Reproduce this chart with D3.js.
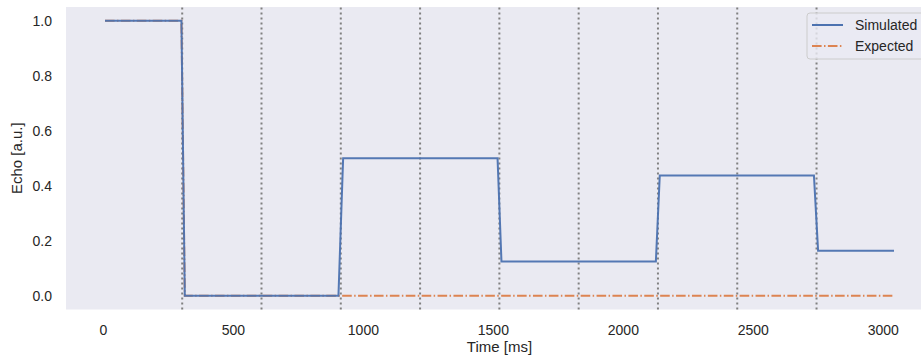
<!DOCTYPE html>
<html>
<head>
<meta charset="utf-8">
<script src="https://cdn.jsdelivr.net/npm/d3@7"></script>
<style>
    body { margin: 0; background: #ffffff; }
    svg { display: block; font-family: "Liberation Sans", Arial, sans-serif; }
</style>
</head>
<body>
<svg class="chart" width="921" height="358"></svg>
<script>

// simulated echo (step response)
const simTime = [8, 302, 315, 906, 924, 1518, 1533, 2127, 2142, 2735, 2751, 3043];
const simEcho = [1, 1, 0, 0, 0.5, 0.5, 0.125, 0.125, 0.4375, 0.4375, 0.164, 0.164];

// expected echo
const expTime = [8, 302, 315, 3043];
const expEcho = [1, 1, 0, 0];

// refocusing / echo times (dotted markers)
const echoTimes = [305, 610, 915, 1220, 1525, 1830, 2135, 2440, 2745];

const xTicks = [0, 500, 1000, 1500, 2000, 2500, 3000];
const yTicks = [0, 0.2, 0.4, 0.6, 0.8, 1.0];

const seriesNames = ['Simulated', 'Expected'];

const margin = { left: 66, top: 7, right: -12, bottom: 48.5 };
const W = 921, H = 358;

const svg = d3.select('.chart');

const x = d3.scaleLinear()
    .domain([-142, 3193])
    .range([margin.left, W - margin.right]);

const y = d3.scaleLinear()
    .domain([-0.05, 1.05])
    .range([H - margin.bottom, margin.top]);

// background
svg.append('rect')
    .attr('x', x.range()[0])
    .attr('y', y.range()[1])
    .attr('width', x.range()[1] - x.range()[0])
    .attr('height', y.range()[0] - y.range()[1])
    .attr('fill', '#eaeaf2');

// axes (no tick lines, no domain, like seaborn darkgrid without grid)
const xAxis = svg.append('g')
    .attr('transform', `translate(0,${y.range()[0]})`)
    .call(d3.axisBottom(x).tickValues(xTicks).tickFormat(d3.format('d')).tickSize(0).tickPadding(16));

const yAxis = svg.append('g')
    .attr('transform', `translate(${x.range()[0]},0)`)
    .call(d3.axisLeft(y).tickValues(yTicks).tickFormat(d3.format('.1f')).tickSize(0).tickPadding(14));

[xAxis, yAxis].forEach(a => {
    a.select('.domain').remove();
    a.selectAll('text').attr('font-size', 14).attr('fill', '#262626').attr('font-family', '"Liberation Sans", Arial, sans-serif');
});

svg.append('text')
    .attr('x', (x.range()[0] + x.range()[1]) / 2)
    .attr('y', 352)
    .attr('text-anchor', 'middle')
    .attr('font-size', 15)
    .attr('fill', '#262626')
    .text('Time [ms]');

svg.append('text')
    .attr('transform', `translate(22,${(y.range()[0] + y.range()[1]) / 2}) rotate(-90)`)
    .attr('text-anchor', 'middle')
    .attr('font-size', 15)
    .attr('fill', '#262626')
    .text('Echo [a.u.]');

// dotted verticals
svg.append('g')
    .selectAll('line')
    .data(echoTimes)
    .join('line')
    .attr('x1', d => x(d))
    .attr('x2', d => x(d))
    .attr('y1', y.range()[0])
    .attr('y2', y.range()[1])
    .attr('stroke', '#808080')
    .attr('stroke-width', 2)
    .attr('stroke-dasharray', '2,3');

const line = d3.line()
    .x(d => x(d[0]))
    .y(d => y(d[1]));

const expData = expTime.map((t, i) => [t, expEcho[i]]);
const simData = simTime.map((t, i) => [t, simEcho[i]]);

svg.append('path')
    .datum(expData)
    .attr('d', line)
    .attr('fill', 'none')
    .attr('stroke', '#dd8452')
    .attr('stroke-width', 2)
    .attr('stroke-dasharray', '9.6,2.4,1.5,2.4');

svg.append('path')
    .datum(simData)
    .attr('d', line)
    .attr('fill', 'none')
    .attr('stroke', '#4c72b0')
    .attr('stroke-width', 2)
    .attr('stroke-opacity', 0.95);

// legend
const legend = svg.append('g').attr('transform', 'translate(807,13)');

legend.append('rect')
    .attr('width', 130)
    .attr('height', 46)
    .attr('rx', 3)
    .attr('fill', '#eaeaf2')
    .attr('fill-opacity', 0.8)
    .attr('stroke', '#cccccc')
    .attr('stroke-width', 1);

const legendColors = ['#4c72b0', '#dd8452'];
const legendDash = [null, '9.6,2.4,1.5,2.4'];

seriesNames.forEach((name, i) => {

    const row = legend.append('g').attr('transform', `translate(0,${12 + i * 21})`);

    row.append('line')
        .attr('x1', 5)
        .attr('x2', 36)
        .attr('stroke', legendColors[i])
        .attr('stroke-width', 2)
        .attr('stroke-dasharray', legendDash[i]);

    row.append('text')
        .attr('x', 48)
        .attr('dy', '0.35em')
        .attr('font-size', 14)
        .attr('fill', '#262626')
        .text(name);

});

</script>
</body>
</html>
